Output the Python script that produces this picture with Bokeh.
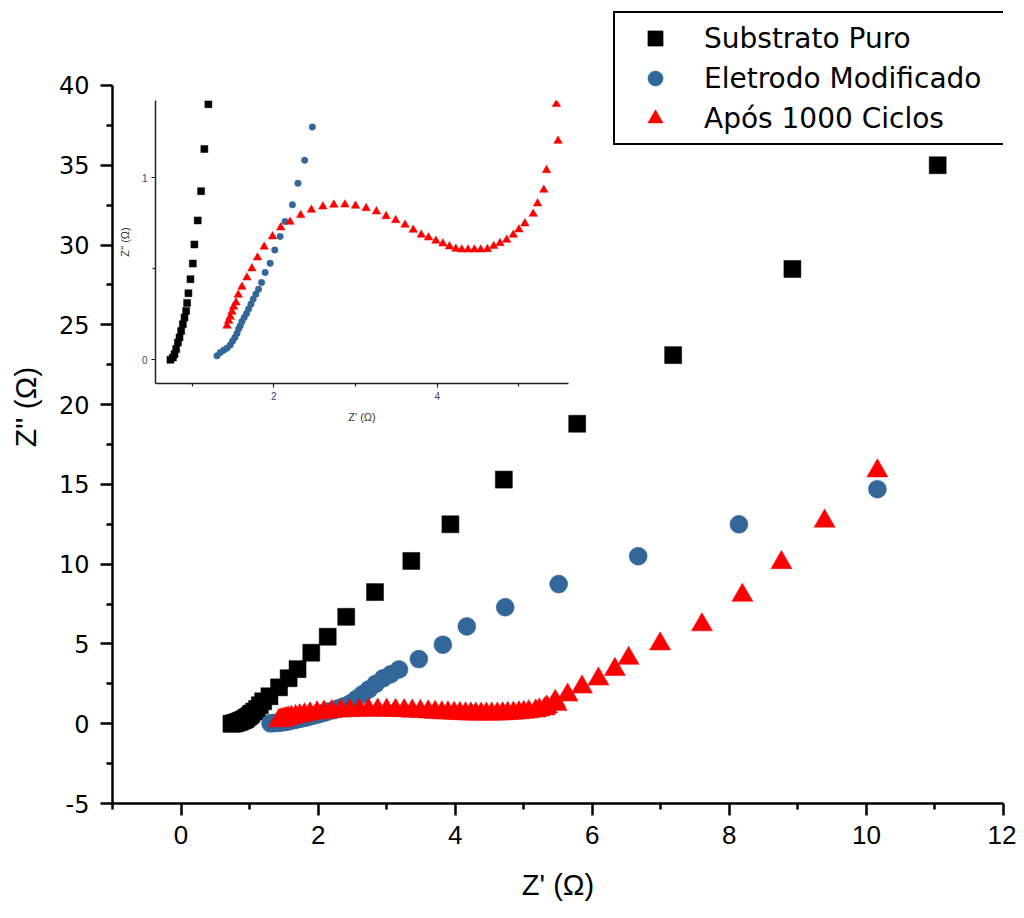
from bokeh.plotting import figure
from bokeh.models import (Range1d, FixedTicker, Legend, LegendItem, GridBox,
                          ColumnDataSource)
from bokeh.embed import file_html
from bokeh.resources import INLINE

# ---------------- data ----------------
series_names = ["Substrato Puro", "Eletrodo Modificado", "Após 1000 Ciclos"]

sub_x = [0.735, 0.765, 0.785, 0.805, 0.826, 0.846, 0.866, 0.887, 0.907, 0.927,
         0.939, 0.955, 0.980, 1.009, 1.028, 1.069, 1.110, 1.150, 1.199, 1.29,
         1.43, 1.57, 1.70, 1.90, 2.14, 2.41, 2.83, 3.36, 3.93, 4.71, 5.78,
         7.18, 8.92, 11.04]
sub_y = [0.0, 0.013, 0.031, 0.059, 0.095, 0.123, 0.159, 0.196, 0.232, 0.269,
         0.313, 0.366, 0.443, 0.529, 0.634, 0.766, 0.927, 1.158, 1.405, 1.72,
         2.28, 2.85, 3.42, 4.45, 5.45, 6.7, 8.25, 10.2, 12.5, 15.3, 18.8,
         23.1, 28.5, 35.0]

mod_x = [1.305, 1.345, 1.386, 1.427, 1.467, 1.496, 1.524, 1.549, 1.569, 1.589,
         1.610, 1.638, 1.667, 1.691, 1.720, 1.748, 1.780, 1.813, 1.850, 1.894,
         1.955, 2.012, 2.077, 2.138, 2.228, 2.296, 2.378, 2.472, 2.56, 2.65,
         2.74, 2.84, 2.95, 3.06, 3.18, 3.47, 3.82, 4.17, 4.73, 5.51, 6.67,
         8.14, 10.16]
mod_y = [0.022, 0.040, 0.053, 0.064, 0.082, 0.104, 0.123, 0.145, 0.169, 0.187,
         0.211, 0.233, 0.255, 0.279, 0.306, 0.333, 0.361, 0.388, 0.425, 0.480,
         0.531, 0.604, 0.678, 0.760, 0.852, 0.971, 1.097, 1.279, 1.55, 1.85,
         2.15, 2.5, 2.85, 3.1, 3.4, 4.05, 4.95, 6.1, 7.3, 8.75, 10.5,
         12.5, 14.7]

cyc_x = [1.427, 1.447, 1.467, 1.488, 1.508, 1.537, 1.565, 1.610, 1.671, 1.732,
         1.801, 1.882, 1.984, 2.085, 2.199, 2.329, 2.460, 2.601, 2.735, 2.870,
         3.000, 3.130, 3.256, 3.374, 3.492, 3.606, 3.707, 3.805, 3.894, 3.984,
         4.069, 4.150, 4.228, 4.301, 4.378, 4.455, 4.533, 4.614, 4.691, 4.768,
         4.850, 4.931, 5.000, 5.073, 5.175, 5.228, 5.305, 5.338, 5.479, 5.459,
         5.64, 5.85, 6.09, 6.33, 6.53, 6.99, 7.60, 8.19, 8.76, 9.39, 10.16]
cyc_y = [0.187, 0.214, 0.236, 0.264, 0.291, 0.315, 0.357, 0.401, 0.452, 0.502,
         0.562, 0.621, 0.678, 0.727, 0.758, 0.795, 0.824, 0.842, 0.852, 0.853,
         0.846, 0.833, 0.815, 0.789, 0.767, 0.742, 0.714, 0.687, 0.672, 0.654,
         0.639, 0.623, 0.610, 0.606, 0.606, 0.606, 0.606, 0.608, 0.625, 0.641,
         0.659, 0.687, 0.716, 0.749, 0.802, 0.859, 0.934, 1.042, 1.203, 1.405,
         1.8, 2.3, 2.8, 3.4, 4.1, 5.0, 6.2, 8.05, 10.1, 12.7, 15.85]

x_major = [0, 2, 4, 6, 8, 10, 12]
x_minor = [-1, 1, 3, 5, 7, 9, 11]
y_major = [-5, 0, 5, 10, 15, 20, 25, 30, 35, 40]
y_minor = [-2.5, 2.5, 7.5, 12.5, 17.5, 22.5, 27.5, 32.5, 37.5]
y_labels = {v: str(v) for v in y_major}

inset_x_major = [2, 4]
inset_x_minor = [1, 3, 5]
inset_y_major = [0, 1]
inset_y_minor = [0.5]

colors = ["#000000", "#336699", "#ff0000"]
markers = ["square", "circle", "triangle"]

# ---------------- main figure ----------------
W, H = 1016, 910
# frame: left 112, right 1003, top 10, bottom 803 (y=-5 at bottom, 40 at 85)
y_top = 40 + 75.0 / 15.96
p = figure(width=W, height=H, x_range=Range1d(-1, 12), y_range=Range1d(-5, y_top),
           output_backend="svg", toolbar_location=None,
           min_border_left=112, min_border_right=W - 1003, min_border_top=10,
           min_border_bottom=H - 803)
p.outline_line_color = None
p.xgrid.visible = False
p.ygrid.visible = False

for ax in (p.xaxis[0], p.yaxis[0]):
    ax.axis_line_width = 2.5
    ax.major_tick_line_width = 2.5
    ax.minor_tick_line_width = 2.5
    ax.major_tick_in = 0
    ax.major_tick_out = 12
    ax.minor_tick_in = 0
    ax.minor_tick_out = 6
    ax.axis_label_text_font_style = "normal"
    ax.axis_label_text_color = "black"
    ax.major_label_text_color = "black"

p.yaxis.bounds = (-5, 40)
p.xaxis.ticker = FixedTicker(ticks=x_major, minor_ticks=x_minor)
p.yaxis.ticker = FixedTicker(ticks=y_major, minor_ticks=y_minor)
p.yaxis.major_label_overrides = y_labels
p.xaxis.major_label_text_font = "Liberation Sans"
p.xaxis.major_label_text_font_size = "26px"
p.xaxis.major_label_standoff = 10
p.yaxis.major_label_text_font = "DejaVu Sans"
p.yaxis.major_label_text_font_size = "24px"
p.yaxis.major_label_standoff = 11

p.xaxis.axis_label = "Z' (Ω)"
p.yaxis.axis_label = "Z'' (Ω)"
p.xaxis.axis_label_text_font = "Liberation Sans"
p.yaxis.axis_label_text_font = "Liberation Sans"
p.xaxis.axis_label_text_font_size = "29px"
p.yaxis.axis_label_text_font_size = "30px"
p.xaxis.axis_label_standoff = 22
p.yaxis.axis_label_standoff = 14

data = [(sub_x, sub_y), (mod_x, mod_y), (cyc_x, cyc_y)]
main_sizes = [17, 18, 21]
renderers = []
for (xs, ys), c, m, s in zip(data, colors, markers, main_sizes):
    src = ColumnDataSource(dict(x=xs, y=ys))
    r = p.scatter("x", "y", source=src, marker=m, size=s,
                  fill_color=c, line_color=c, line_width=0.5)
    renderers.append(r)

legend = Legend(items=[LegendItem(label=n, renderers=[r])
                       for n, r in zip(series_names, renderers)],
                location=(501, 658))
legend.border_line_color = "black"
legend.border_line_alpha = 1
legend.border_line_width = 2
legend.background_fill_color = "white"
legend.background_fill_alpha = 1
legend.padding = 6
legend.spacing = 2
legend.margin = 0
legend.glyph_height = 38
legend.glyph_width = 68
legend.label_height = 38
legend.label_width = 295
legend.label_standoff = 15
legend.label_text_font = "DejaVu Sans"
legend.label_text_font_size = "28px"
legend.label_text_color = "black"
p.add_layout(legend, "center")

# ---------------- inset figure ----------------
IX, IY, IW, IH = 115, 95, 458, 333
q = figure(width=IW, height=IH, x_range=Range1d(0.552, 5.607),
           y_range=Range1d(-0.13, 1.425),
           output_backend="svg", toolbar_location=None,
           min_border_left=40, min_border_right=5, min_border_top=5,
           min_border_bottom=45)
q.outline_line_color = None
q.xgrid.visible = False
q.ygrid.visible = False
q.background_fill_alpha = 0
q.border_fill_alpha = 0

for ax in (q.xaxis[0], q.yaxis[0]):
    ax.axis_line_width = 1.5
    ax.axis_line_color = "#222222"
    ax.major_tick_line_width = 1.2
    ax.minor_tick_line_width = 1.2
    ax.major_tick_line_color = "#222222"
    ax.minor_tick_line_color = "#222222"
    ax.major_tick_in = 0
    ax.major_tick_out = 4
    ax.minor_tick_in = 0
    ax.minor_tick_out = 3
    ax.major_label_text_font = "Liberation Sans"
    ax.major_label_text_font_size = "10px"
    ax.major_label_text_color = "#34466e"
    ax.major_label_standoff = 4
    ax.axis_label_text_font = "Liberation Sans"
    ax.axis_label_text_font_size = "11px"
    ax.axis_label_text_font_style = "normal"
    ax.axis_label_text_color = "#333333"
    ax.axis_label_standoff = 8

q.xaxis.ticker = FixedTicker(ticks=inset_x_major, minor_ticks=inset_x_minor)
q.yaxis.ticker = FixedTicker(ticks=inset_y_major, minor_ticks=inset_y_minor)
q.xaxis.axis_label = "Z' (Ω)"
q.yaxis.axis_label = "Z'' (Ω)"

inset_sizes = [7, 6.5, 8.5]
for (xs, ys), c, m, s in zip(data, colors, markers, inset_sizes):
    src = ColumnDataSource(dict(x=xs, y=ys))
    q.scatter("x", "y", source=src, marker=m, size=s,
              fill_color=c, line_color=c, line_width=0.5)

# ---------------- overlapping layout ----------------
grid = GridBox(children=[(p, 0, 0, 3, 3), (q, 1, 1, 1, 1)],
               rows=[f"{IY}px", f"{IH}px", f"{H - IY - IH}px"],
               cols=[f"{IX}px", f"{IW}px", f"{W - IX - IW}px"],
               spacing=0)

open("out.html", "w").write(file_html(grid, INLINE))
